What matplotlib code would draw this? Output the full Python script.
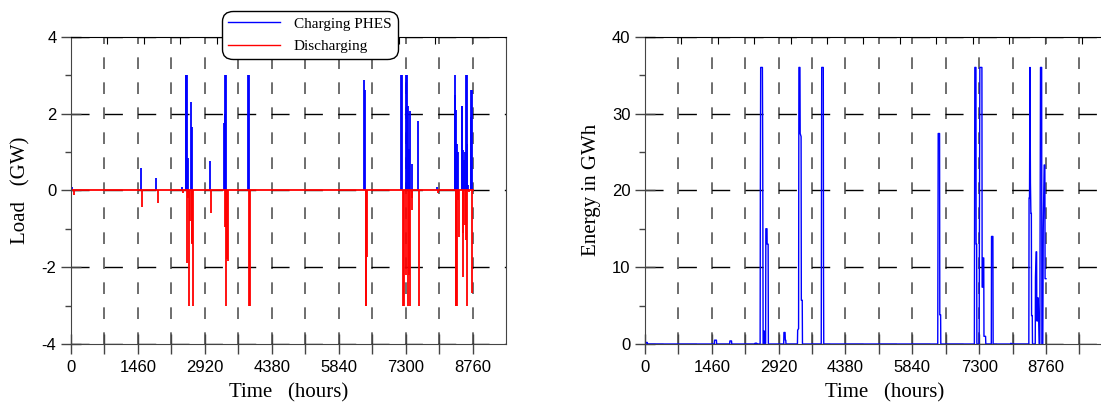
import matplotlib
matplotlib.use('Agg')
import matplotlib.pyplot as plt
from matplotlib.ticker import MultipleLocator, FixedLocator, NullFormatter
import numpy as np

plt.rcParams['axes.unicode_minus'] = False

# time span of the simulated year (hours)
year_span = [0, 8760]

# charging of the PHES plant (GW)
charge_hours = [21, 1522, 1854, 2411, 2500, 2510, 2520, 2548, 2617, 2644, 3037,
                3340, 3352, 3364, 3375, 3871, 3881, 6401, 6421,
                7200, 7212, 7314, 7326, 7350, 7370, 7404, 7440, 7570, 7992,
                8370, 8380, 8400, 8420, 8441, 8520, 8532, 8559, 8580, 8602,
                8622, 8634, 8650, 8667, 8717, 8731, 8745]
charge_gw = [0.09, 0.58, 0.32, 0.10, 3.0, 3.0, 3.0, 0.84, 2.30, 1.64, 0.77,
             1.75, 2.0, 3.0, 3.0, 3.0, 3.0, 2.87, 2.6,
             3.0, 3.0, 3.0, 3.0, 2.2, 1.08, 2.07, 0.69, 1.81, 0.08,
             3.0, 2.48, 2.1, 1.2, 1.0, 2.19, 2.19, 1.05, 0.8, 1.0,
             3.0, 3.0, 1.2, 0.13, 1.9, 2.6, 2.6]

# discharging (GW, negative)
discharge_hours = [55, 1557, 1889, 2446, 2534, 2550, 2569, 2600, 2631, 2650, 2665,
                   3058, 3354, 3389, 3400, 3423, 3892, 3902, 6428, 6438, 6449,
                   7245, 7260, 7314, 7345, 7380, 7400, 7430, 7450, 7595, 8000,
                   8395, 8405, 8420, 8440, 8470, 8545, 8560, 8590, 8615, 8650,
                   8690, 8752]
discharge_gw = [-0.13, -0.43, -0.32, -0.07, -1.9, -0.2, -3.0, -0.8, -1.38, -1.4, -3.0,
                -0.58, -0.95, -3.0, -1.8, -1.85, -3.0, -3.0, -3.0, -3.0, -1.73,
                -3.0, -3.0, -2.2, -3.0, -2.2, -3.0, -0.5, -0.2, -3.0, -0.08,
                -3.0, -3.0, -3.0, -0.25, -1.22, -1.1, -2.26, -0.9, -1.3, -3.0,
                -0.05, -2.68]

# stored energy (GWh)
energy_hours = [0, 15, 20, 50, 55,
                1515, 1520, 1560, 1565, 1850, 1855, 1890, 1895, 2400, 2405, 2440, 2445,
                2515, 2520, 2527, 2565, 2572, 2580, 2600, 2603, 2608,
                2635, 2640, 2665, 2668, 2690, 2695,
                3030, 3035, 3060, 3065, 3075, 3080,
                3330, 3335, 3355, 3362, 3385, 3390, 3410, 3415, 3435, 3440,
                3850, 3860, 3895, 3900, 3905,
                6395, 6405, 6435, 6440, 6458, 6462,
                7195, 7205, 7230, 7233, 7245, 7250,
                7300, 7305, 7315, 7360, 7365, 7380, 7385, 7400, 7405, 7440, 7445,
                7565, 7570, 7600, 7605, 7990, 7995, 8000,
                8385, 8390, 8400, 8410, 8420, 8430, 8440, 8445, 8460, 8465,
                8525, 8530, 8545, 8555, 8560, 8570, 8580, 8590, 8600, 8610,
                8625, 8640, 8665, 8670, 8690, 8700, 8720, 8735, 8740, 8760]
energy_gwh = [0, 0, 0.2, 0.2, 0,
              0, 0.5, 0.5, 0, 0, 0.4, 0.4, 0, 0, 0.1, 0.1, 0,
              0, 20, 36, 36, 24, 0, 0, 1.7, 0,
              0, 15, 15, 13, 13, 0,
              0, 1.5, 1.5, 0.5, 0.5, 0,
              0, 1.8, 2, 36, 36, 27.4, 27, 5.7, 5.7, 0,
              0, 36, 36, 9, 0,
              0, 27.4, 27.4, 3.8, 3.8, 0,
              0, 36, 36, 13, 13, 0,
              0, 13, 36, 36, 7.4, 7.4, 11.2, 11.2, 1, 1, 0,
              0, 14, 14, 0, 0, 0.1, 0,
              0, 19, 19, 36, 21, 17, 17, 3.7, 3.7, 0,
              0, 8.7, 12, 12, 3, 6, 3, 6, 3, 0,
              0, 36, 36, 0, 0, 15, 23.3, 23.3, 8.5, 8.5]

FIG_W, FIG_H = 1101, 405
fig = plt.figure(figsize=(FIG_W / 100, FIG_H / 100), dpi=100)

tick_font = 'Liberation Sans'
label_font = 'Liberation Serif'
spine_col = '#444444'


def px_box(x0, x1, y_top, y_bot):
    return [x0 / FIG_W, 1 - y_bot / FIG_H, (x1 - x0) / FIG_W, (y_bot - y_top) / FIG_H]


def style_axes(ax, x_max, y_major, y_minor):
    ax.set_xlim(0, x_max)
    ax.xaxis.set_major_locator(FixedLocator(np.arange(0, 8761, 1460)))
    ax.xaxis.set_minor_locator(FixedLocator(np.arange(730, x_max, 1460)))
    ax.yaxis.set_major_locator(MultipleLocator(y_major))
    ax.yaxis.set_minor_locator(MultipleLocator(y_minor))
    ax.tick_params(axis='x', which='both', direction='inout', length=15, width=1,
                   color=spine_col, labelsize=12, pad=4)
    ax.tick_params(axis='y', which='major', direction='inout', length=15, width=1,
                   color=spine_col, labelsize=12, pad=3)
    ax.tick_params(axis='y', which='minor', direction='out', length=4, width=1,
                   color=spine_col)
    for lab in ax.get_xticklabels() + ax.get_yticklabels():
        lab.set_fontfamily(tick_font)
    ax.grid(True, axis='x', which='both', color='#555555', lw=1.2,
            linestyle=(0, (7, 8)))
    ax.grid(True, axis='y', which='major', color='black', lw=1.0,
            linestyle=(0, (13, 11)))
    ax.set_axisbelow(True)
    for side in ['left', 'bottom']:
        ax.spines[side].set_color(spine_col)
    ax.spines['top'].set_color('black')
    top = ax.secondary_xaxis('top')
    top.xaxis.set_major_locator(FixedLocator(np.arange(795, x_max, 795)))
    top.xaxis.set_major_formatter(NullFormatter())
    top.tick_params(direction='in', length=5, color='black')
    top.spines['top'].set_visible(False)


# left: load
ax1 = fig.add_axes(px_box(71, 506, 36.7, 344))
ax1.vlines(charge_hours, 0, charge_gw, color='#0000ff', lw=1.3, label='Charging PHES')
ax1.vlines(discharge_hours, 0, discharge_gw, color='#ff0000', lw=1.3, label='Discharging')
ax1.plot(year_span, [0, 0], color='#ff0000', lw=1.3)
ax1.set_ylim(-4, 4)
style_axes(ax1, 9490, 2, 1)
ax1.set_xlabel('Time   (hours)', fontsize=15, family=label_font, labelpad=6)
ax1.set_ylabel('Load   (GW)', fontsize=15, family=label_font, labelpad=8)
ax1.spines['right'].set_color(spine_col)

# right: stored energy
ax2 = fig.add_axes(px_box(645, 1125, 36.7, 344))
ax2.plot(energy_hours, energy_gwh, color='#0000ff', lw=1.0)
ax2.set_ylim(0, 40)
style_axes(ax2, 8760 * (1125 - 645) / 401, 10, 5)
ax2.set_xlabel('Time   (hours)', fontsize=15, family=label_font, labelpad=6)
ax2.set_ylabel('Energy in GWh', fontsize=15, family=label_font, labelpad=8)

# legend in a rounded box overlapping the top of the left panel
h1 = plt.Line2D([], [], color='#0000ff', lw=1)
h2 = plt.Line2D([], [], color='#ff0000', lw=1)
leg = fig.legend([h1, h2], ['Charging PHES', 'Discharging'], loc='upper left',
                 bbox_to_anchor=(222 / FIG_W, 1 - 10.7 / FIG_H), borderaxespad=0,
                 prop={'family': label_font, 'size': 11}, handlelength=3.4,
                 handletextpad=0.9, labelspacing=0.6, borderpad=0.4,
                 fancybox=True, framealpha=1, edgecolor='black')
leg.get_frame().set_boxstyle('round,pad=0,rounding_size=0.7')
leg.get_frame().set_linewidth(1.0)

fig.savefig('out.png', dpi=100)
